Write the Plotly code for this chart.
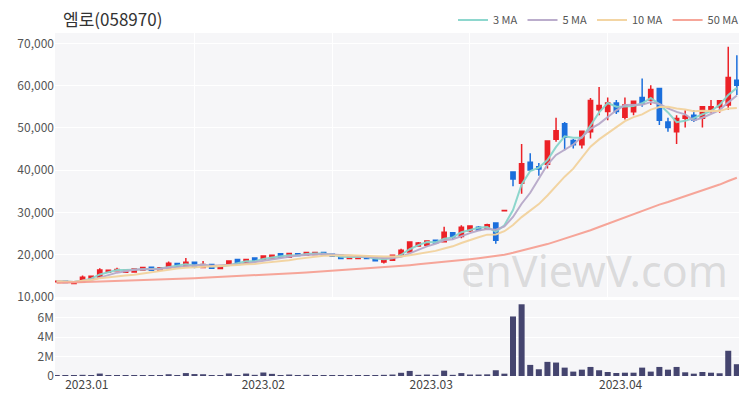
import pandas as pd
import plotly.graph_objects as go

# ---------------- data ----------------
holidays = ["2022-12-30", "2023-01-23", "2023-01-24", "2023-03-01"]
dates = pd.bdate_range("2022-12-26", "2023-04-20", freq="C", holidays=holidays)

opens = [13600, 13750, 13200, 13550, 14400, 14700, 15850, 16200, 15850, 15900,
         16400, 17050, 16350, 16900, 17900, 17150, 18250, 17000, 17700, 16750,
         17550, 18850, 18000, 19200, 18950, 19250, 20250, 19400, 20250, 19900,
         20050, 20500, 20100, 19850, 19100, 19100, 19650, 19300, 18300, 18700,
         19900, 20650, 22050, 22250, 23400, 23050, 25200, 24300, 25700, 26500,
         26000, 27500, 30400, 39550, 36900, 41900, 40800, 41400, 47300, 51000,
         47000, 46000, 49100, 54300, 53900, 55900, 52500, 53800, 57200, 56600,
         59300, 51400, 49100, 52300, 53000, 52300, 54200, 55000, 55400, 61300]
highs = [13850, 13800, 13500, 15100, 15000, 16800, 16400, 16900, 16550, 16800,
         17150, 17150, 17000, 18400, 18000, 19200, 18350, 18500, 17800, 17400,
         18600, 18950, 19000, 19300, 19800, 19950, 20350, 20400, 20350, 20600,
         20600, 20600, 20200, 19950, 19700, 19700, 19750, 19400, 19200, 19950,
         21400, 23200, 23000, 23350, 23500, 26600, 25400, 27000, 27000, 26800,
         27300, 27600, 30450, 39600, 46200, 44000, 41700, 47100, 52400, 51400,
         47400, 49400, 57100, 59700, 57200, 56600, 57200, 56500, 61700, 60100,
         59500, 52400, 53000, 54200, 54200, 55000, 56600, 56500, 69200, 67200]
lows = [13550, 13400, 13150, 13500, 14300, 14600, 15750, 16100, 15750, 15850,
        16300, 16200, 16250, 16800, 16900, 17050, 16800, 16900, 16600, 16650,
        17450, 17900, 17900, 18400, 18850, 19150, 19300, 19300, 19700, 19800,
        19950, 19800, 19550, 19000, 19000, 19000, 19000, 18450, 17900, 18600,
        19800, 20550, 21900, 21850, 22700, 22900, 23500, 23900, 25400, 25700,
        25900, 22600, 30400, 36200, 34400, 39700, 38700, 40400, 46700, 44700,
        45100, 45100, 47500, 53000, 51800, 53300, 52000, 53000, 55000, 55400,
        50700, 49100, 46200, 50100, 51400, 50100, 53600, 53600, 54300, 57800]
closes = [13750, 13450, 13450, 14700, 14900, 16400, 16300, 16500, 16400, 16650,
          17000, 16300, 16900, 18000, 17000, 18250, 17150, 17700, 16800, 17300,
          18500, 18000, 18900, 18450, 19700, 19850, 19400, 20300, 19800, 20500,
          20500, 19900, 19650, 19100, 19650, 19650, 19100, 18550, 19100, 19850,
          21050, 23000, 22750, 23250, 22800, 25300, 24200, 26500, 26800, 25800,
          27100, 23400, 30450, 37900, 41500, 40050, 40300, 46900, 49300, 47800,
          46000, 49200, 56500, 55300, 55900, 53900, 55400, 56300, 55800, 59100,
          51800, 50100, 52200, 52800, 51900, 55000, 55000, 56400, 61900, 60100]
volumes = [50000, 40000, 50000, 120000, 60000, 250000, 80000, 100000, 60000, 50000,
           100000, 70000, 50000, 180000, 80000, 300000, 200000, 180000, 100000, 80000,
           260000, 100000, 250000, 120000, 360000, 220000, 100000, 150000, 80000, 120000,
           100000, 70000, 60000, 80000, 50000, 60000, 50000, 100000, 120000, 150000,
           330000, 520000, 120000, 150000, 120000, 550000, 120000, 300000, 150000, 150000,
           170000, 590000, 240000, 6110000, 7360000, 1140000, 690000, 1450000, 1380000, 860000,
           450000, 650000, 930000, 590000, 410000, 310000, 340000, 340000, 860000, 450000,
           930000, 650000, 930000, 380000, 240000, 410000, 340000, 280000, 2590000, 1210000]
ma50 = [13330, 13390, 13450, 13510, 13570, 13630, 13690, 13760, 13830, 13900,
        13970, 14040, 14120, 14200, 14280, 14360, 14450, 14540, 14630, 14720,
        14820, 14920, 15020, 15130, 15240, 15350, 15460, 15580, 15700, 15820,
        15950, 16080, 16210, 16350, 16490, 16630, 16770, 16910, 17060, 17210,
        17370, 17540, 17720, 17900, 18090, 18290, 18500, 18720, 18950, 19190,
        19460, 19660, 20000, 20460, 20960, 21430, 21910, 22520, 23170, 23790,
        24380, 25030, 25800, 26570, 27320, 28060, 28810, 29600, 30370, 31180,
        31860, 32480, 33160, 33820, 34460, 35170, 35870, 36600, 37430, 38220]

title_text = "엠로(058970)"
month_labels = ["2023.01", "2023.02", "2023.03", "2023.04"]
month_starts = ["2023-01-01", "2023-02-01", "2023-03-01", "2023-04-01"]
price_ticks = [10000, 20000, 30000, 40000, 50000, 60000, 70000]
vol_ticks = [0, 2000000, 4000000, 6000000]
vol_tick_text = ["0", "2M", "4M", "6M"]
grid_every = 16

# ---------------- derived ----------------
idx = list(range(len(dates)))
close_s = pd.Series(closes)
ma3 = close_s.rolling(3, min_periods=1).mean()
ma5 = close_s.rolling(5, min_periods=1).mean()
ma10 = close_s.rolling(10, min_periods=1).mean()

month_pos = []
for ms in month_starts:
    d = pd.Timestamp(ms)
    first = next(i for i, dt in enumerate(dates) if dt >= d)
    month_pos.append(first if dates[first] == d else first - 0.5)

grid_pos = [i for i in idx if i > 0 and i % grid_every == 0]

RED = "#ec2127"
BLUE = "#1b6fdc"
FONT = "Noto Sans CJK KR"

fig = go.Figure()
fig.add_trace(go.Candlestick(
    x=idx, open=opens, high=highs, low=lows, close=closes,
    increasing=dict(line=dict(color=RED, width=1.5), fillcolor=RED),
    decreasing=dict(line=dict(color=BLUE, width=1.5), fillcolor=BLUE),
    whiskerwidth=0, showlegend=False, hoverinfo="skip",
    xaxis="x", yaxis="y"))

ma_specs = [("3 MA", ma3, "#88d5cb"), ("5 MA", ma5, "#b7a9c9"),
            ("10 MA", ma10, "#f2d39e"), ("50 MA", ma50, "#f6a194")]
for name, vals, col in ma_specs:
    fig.add_trace(go.Scatter(x=idx, y=list(vals), mode="lines", name=name,
                             line=dict(color=col, width=2), opacity=0.95,
                             hoverinfo="skip", xaxis="x", yaxis="y"))

fig.add_trace(go.Bar(x=idx, y=volumes, marker=dict(color="#45456f", line=dict(width=0)),
                     width=0.7, showlegend=False, hoverinfo="skip",
                     xaxis="x2", yaxis="y2"))

BG = "#f6f6f8"
xr = [-0.2, len(idx) - 1 + 0.25]
fig.update_layout(
    width=750, height=400,
    margin=dict(l=55, r=11, t=33, b=24, autoexpand=False),
    paper_bgcolor="white", plot_bgcolor=BG,
    font=dict(family=FONT, color="#555555", size=12),
    title=dict(text=title_text, x=63 / 750, xanchor="left", xref="container",
               y=1 - 20 / 400, yanchor="middle", yref="container",
               font=dict(size=17, color="#333333", family=FONT)),
    showlegend=True,
    legend=dict(orientation="h", x=744 / 750, xanchor="right", xref="container",
                y=1 - 20 / 400, yanchor="middle", yref="container",
                font=dict(size=11, color="#555555"), bgcolor="rgba(0,0,0,0)",
                itemwidth=30, tracegroupgap=0),
    hovermode=False,
    xaxis=dict(domain=[0, 1], range=xr, anchor="y", tickvals=grid_pos,
               showticklabels=False, ticks="", showgrid=True, gridcolor="white",
               gridwidth=1, zeroline=False, rangeslider=dict(visible=False),
               showline=False, automargin=False),
    xaxis2=dict(domain=[0, 1], range=xr, anchor="y2", matches="x",
                tickvals=month_pos, ticktext=month_labels, ticks="",
                showgrid=False, zeroline=False, showline=False, automargin=False,
                tickfont=dict(size=12, color="#444444")),
    yaxis=dict(domain=[0.2303, 1], range=[10000, 72450], tickvals=price_ticks,
               tickformat=",", showgrid=True, gridcolor="white", gridwidth=1,
               zeroline=False, ticks="", automargin=False,
               tickfont=dict(size=12, color="#555555")),
    yaxis2=dict(domain=[0, 0.2216], range=[0, 7.8e6], tickvals=vol_ticks,
                ticktext=vol_tick_text, showgrid=True, gridcolor="white",
                gridwidth=1, zeroline=False, ticks="", automargin=False,
                tickfont=dict(size=12, color="#555555")),
    bargap=0.3,
)

fig.add_annotation(text="enViewV.com", xref="paper", yref="paper",
                   x=(594 - 55) / 684, y=(376 - 270) / 343,
                   xanchor="center", yanchor="middle", showarrow=False,
                   font=dict(size=43, color="rgba(160,160,160,0.32)", family="Noto Sans"))

fig.write_html("out.html", config={"displayModeBar": False},
               post_script="document.body.style.margin='0px';")
